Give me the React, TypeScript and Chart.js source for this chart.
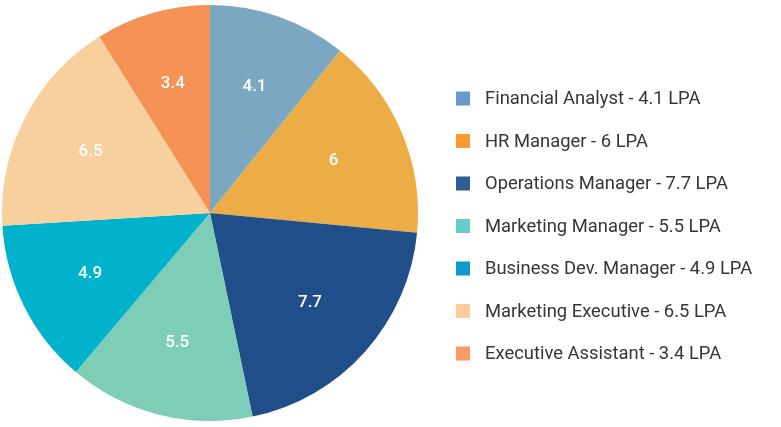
import React, { useEffect, useRef } from "react";
import { Chart, registerables } from "chart.js";

Chart.register(...registerables);

const categories = [
  "Financial Analyst",
  "HR Manager",
  "Operations Manager",
  "Marketing Manager",
  "Business Dev. Manager",
  "Marketing Executive",
  "Executive Assistant",
];
const salaries = [4.1, 6, 7.7, 5.5, 4.9, 6.5, 3.4];
const sliceColors = ["#7ca7c0", "#ecad47", "#1f4e89", "#7ecdb6", "#00b2cc", "#f8d09e", "#f39254"];
const legendColors = ["#6699cc", "#ff9933", "#2f5d94", "#66cccc", "#1199cc", "#ffcc99", "#ff9966"];
const legendLabels = categories.map((c, i) => `${c} - ${salaries[i]} LPA`);

const sliceLabelPlugin = {
  id: "sliceLabels",
  afterDatasetsDraw(chart: any) {
    const ctx = chart.ctx;
    const meta = chart.getDatasetMeta(0);
    ctx.save();
    ctx.fillStyle = "#ffffff";
    ctx.font = "500 17px Roboto";
    ctx.textAlign = "center";
    ctx.textBaseline = "middle";
    meta.data.forEach((arc: any, i: number) => {
      const p = arc.getProps(["x", "y", "startAngle", "endAngle", "outerRadius"], true);
      const mid = (p.startAngle + p.endAngle) / 2;
      const r = p.outerRadius * 0.645;
      ctx.fillText(String(salaries[i]), p.x + Math.cos(mid) * r, p.y + Math.sin(mid) * r);
    });
    ctx.restore();
  },
};

const sideLegendPlugin = {
  id: "sideLegend",
  afterDraw(chart: any) {
    const ctx = chart.ctx;
    const boxX = 456;
    const textX = 485;
    const firstY = 98.5;
    const step = 42.5;
    const box = 14;
    ctx.save();
    ctx.font = "18.4px Roboto";
    ctx.textBaseline = "middle";
    ctx.textAlign = "left";
    legendLabels.forEach((label, i) => {
      const y = firstY + i * step;
      ctx.fillStyle = legendColors[i];
      ctx.fillRect(boxX, y - box / 2, box, box);
      ctx.fillStyle = "#363636";
      ctx.fillText(label, textX, y + 1);
    });
    ctx.restore();
  },
};

export default function App() {
  const ref = useRef<HTMLCanvasElement>(null);
  useEffect(() => {
    document.body.style.margin = "0";
    const chart = new Chart(ref.current as HTMLCanvasElement, {
      type: "pie",
      data: {
        labels: categories,
        datasets: [
          {
            data: salaries,
            backgroundColor: sliceColors,
            borderWidth: 0,
          },
        ],
      },
      options: {
        animation: false,
        responsive: false,
        layout: { padding: { left: 2, top: 5, bottom: 6, right: 363 } },
        plugins: {
          legend: { display: false },
          tooltip: { enabled: false },
        },
      },
      plugins: [sliceLabelPlugin, sideLegendPlugin],
    });
    return () => chart.destroy();
  }, []);
  return (
    <div style={{ width: 781, height: 427, background: "#ffffff" }}>
      <canvas ref={ref} width={781} height={427} />
    </div>
  );
}
